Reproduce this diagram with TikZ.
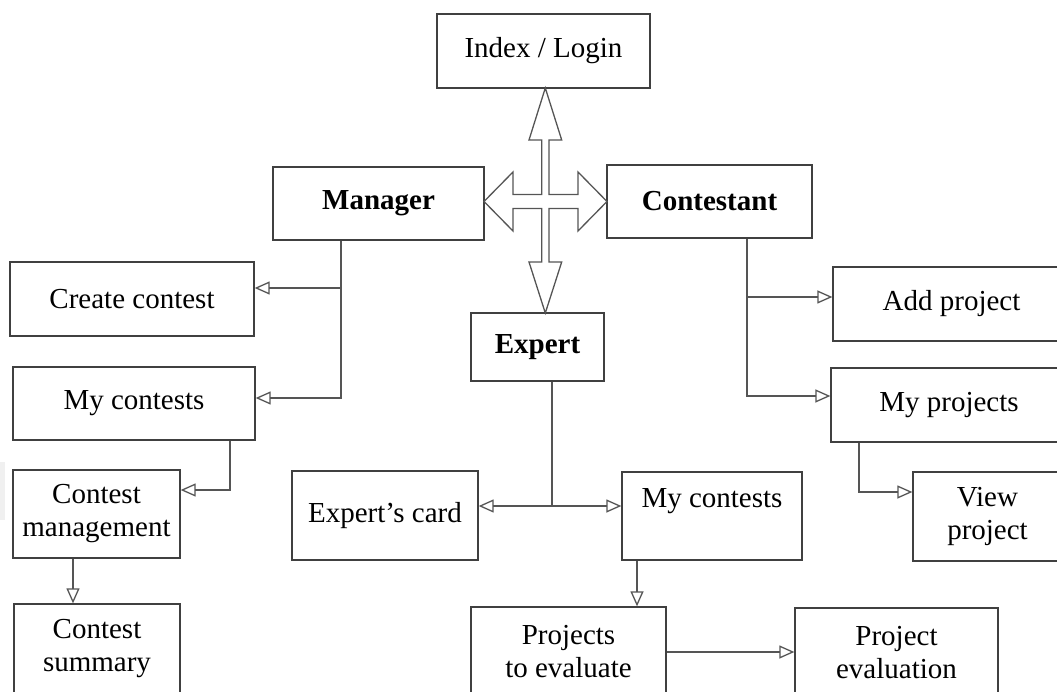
\documentclass[tikz,border=0pt]{standalone}
\usepackage{fontspec}
\setmainfont{Liberation Serif}
\usetikzlibrary{arrows.meta}
\definecolor{lncol}{HTML}{555555}
\definecolor{bxcol}{HTML}{404040}
\begin{document}
\begin{tikzpicture}[x=1pt,y=-1pt,
  box/.style={draw=bxcol, line width=1.3pt, inner sep=0pt, align=center,
    font=\fontsize{29}{33}\selectfont, text=black},
  bbox/.style={box, font=\fontsize{29}{33}\selectfont\bfseries},
  conn/.style={draw=lncol, line width=1.3pt},
  arr/.style={conn, -{Triangle[open, length=15pt, width=13pt]}}]
\useasboundingbox (0,0) rectangle (1057,692);
\clip (0,0) rectangle (1057,692);
\fill[gray!12] (0,462) rectangle (5,520);

% nodes
\node[box, minimum width=213pt, minimum height=74pt] (login) at (543.5,51) {Index / Login};
\node[bbox, minimum width=211pt, minimum height=73pt] (manager) at (378.5,203.5) {Manager};
\node[bbox, minimum width=205pt, minimum height=73pt] (contestant) at (709.5,201.5) {Contestant};
\node[bbox, minimum width=133pt, minimum height=68pt] (expert) at (537.5,347) {Expert};
\node[box, minimum width=244pt, minimum height=74pt] (create) at (132,299) {Create contest};
\node[box, minimum width=242pt, minimum height=73pt] (mycontL) at (134,403.5) {My contests};
\node[box, minimum width=167pt, minimum height=88pt] (cmanage) at (96.5,514) {Contest\\management};
\node[box, minimum width=166pt, minimum height=90pt] (csummary) at (97,649) {Contest\\summary};
\node[box, minimum width=186pt, minimum height=89pt] (expcard) at (385,515.5) {Expert’s card};
\node[box, minimum width=180pt, minimum height=88pt] (mycontC) at (712,516) {My contests\\[2pt]\mbox{}};
\node[box, minimum width=195pt, minimum height=89pt] (projeval) at (568.5,651.5) {Projects\\to evaluate};
\node[box, minimum width=203pt, minimum height=89pt] (peval) at (896.5,652.5) {Project\\evaluation};
\node[box, minimum width=237pt, minimum height=74pt] (addproj) at (951.5,304) {Add project};
\node[box, minimum width=236pt, minimum height=74pt] (myproj) at (949,405) {My projects};
\node[box, minimum width=149pt, minimum height=89pt] (viewproj) at (987.5,516.5) {View\\project};

% central four-way block arrow
\draw[conn, line join=miter] (545.3,88) -- (561.7,140) -- (549,140) -- (549,194.5) -- (578,194.5) -- (578,172) -- (607,201.5) -- (578,231) -- (578,208.5) -- (549,208.5) -- (549,262) -- (561.7,262) -- (545.3,313) -- (529,262) -- (541.7,262) -- (541.7,208.5) -- (513,208.5) -- (513,231) -- (484,201.5) -- (513,172) -- (513,194.5) -- (541.7,194.5) -- (541.7,140) -- (529,140) -- cycle;

% manager branch
\coordinate (m1) at (341,288);
\coordinate (m2) at (341,398);
\draw[arr] (manager.south -| m2) -- (m2) -- (m2 -| mycontL.east);
\draw[arr] (m1) -- (m1 -| create.east);
\coordinate (m3) at (230,490);
\draw[arr] (mycontL.south -| m3) -- (m3) -- (m3 -| cmanage.east);
\coordinate (m4) at (73,0);
\draw[arr] (cmanage.south -| m4) -- (csummary.north -| m4);

% contestant branch
\coordinate (c1) at (747,297);
\coordinate (c2) at (747,396);
\draw[arr] (contestant.south -| c2) -- (c2) -- (c2 -| myproj.west);
\draw[arr] (c1) -- (c1 -| addproj.west);
\coordinate (c3) at (859,492);
\draw[arr] (myproj.south -| c3) -- (c3) -- (c3 -| viewproj.west);

% expert branch
\coordinate (e1) at (552,506);
\draw[conn] (expert.south -| e1) -- ([yshift=1pt]e1);
\draw[arr] (e1) -- (e1 -| expcard.east);
\draw[arr] (e1) -- (e1 -| mycontC.west);
\coordinate (e2) at (637,0);
\draw[arr] (mycontC.south -| e2) -- (projeval.north -| e2);
\coordinate (e3) at (0,652);
\draw[arr] (projeval.east |- e3) -- (peval.west |- e3);
\end{tikzpicture}
\end{document}
